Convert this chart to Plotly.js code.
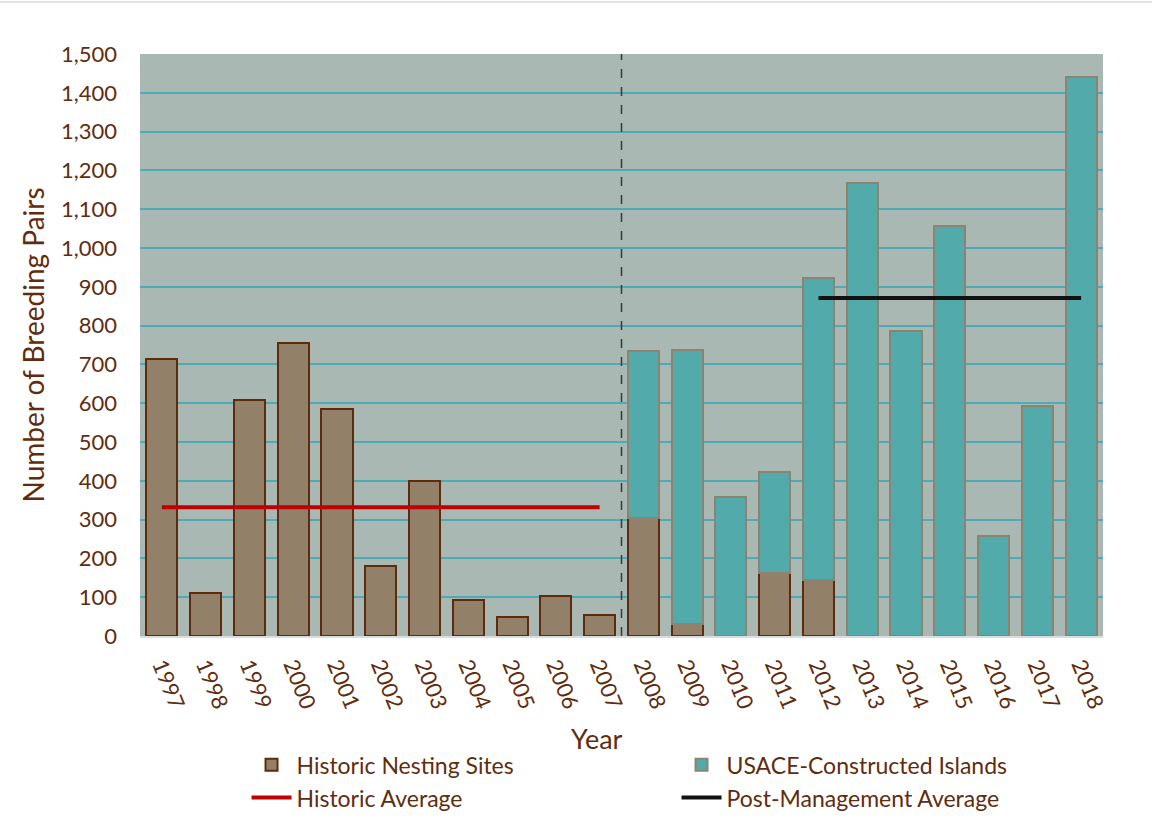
<!DOCTYPE html>
<html>
<head>
<meta charset="utf-8">
<script src="https://cdn.plot.ly/plotly-3.0.1.min.js"></script>
<style>
  html, body { margin: 0; padding: 0; background: #fff; }
  #wrap { position: relative; width: 1152px; height: 836px; }
  #topline { position: absolute; left: 0; top: 1px; width: 1152px; height: 2px; background: #e1e5ea; z-index: 5; }
  #chart { width: 1152px; height: 836px; }
</style>
</head>
<body>
<div id="wrap">
  <div id="topline"></div>
  <div id="chart"></div>
</div>
<script>
const years = ['1997','1998','1999','2000','2001','2002','2003','2004','2005','2006','2007',
               '2008','2009','2010','2011','2012','2013','2014','2015','2016','2017','2018'];
const historicNesting = [714, 111, 608, 755, 585, 180, 400, 93, 49, 103, 54,
                         304, 31, null, 162, 144, null, null, null, null, null, null];
const usaceIslands = [null, null, null, null, null, null, null, null, null, null, null,
                      431, 706, 358, 261, 779, 1168, 786, 1057, 258, 593, 1441];
const historicAvgYears = ['1997', '2007'];
const historicAvg = [332, 332];
const postMgmtAvgYears = ['2012', '2018'];
const postMgmtAvg = [871, 871];
const yTickVals = [0,100,200,300,400,500,600,700,800,900,1000,1100,1200,1300,1400,1500];

const brown = '#5f2d0e';
const font = 'Lato, "Open Sans", sans-serif';

const traces = [
  { type: 'bar', name: 'Historic Nesting Sites', x: years, y: historicNesting,
    marker: { color: '#928069', line: { color: '#5e2b0c', width: 2 } } },
  { type: 'bar', name: 'USACE-Constructed Islands', x: years, y: usaceIslands,
    marker: { color: '#52abaa', line: { color: '#8c8470', width: 2 } } },
  { type: 'scatter', mode: 'lines', name: 'Historic Average', x: historicAvgYears, y: historicAvg,
    line: { color: '#c00000', width: 4 } },
  { type: 'scatter', mode: 'lines', name: 'Post-Management Average', x: postMgmtAvgYears, y: postMgmtAvg,
    line: { color: '#111111', width: 4 } }
];

const layout = {
  width: 1152, height: 836,
  margin: { l: 140, r: 49, t: 54, b: 200 },
  paper_bgcolor: '#ffffff',
  plot_bgcolor: '#aab8b3',
  font: { family: font, color: brown, size: 20 },
  barmode: 'stack',
  bargap: 0.29,
  showlegend: true,
  legend: {
    orientation: 'h', xref: 'container', yref: 'container',
    x: 0.214, xanchor: 'left', y: 0.111, yanchor: 'top',
    entrywidth: 375, traceorder: 'normal', itemwidth: 40, tracegroupgap: 0,
    font: { family: font, size: 23, color: brown }, bgcolor: 'rgba(0,0,0,0)'
  },
  xaxis: {
    type: 'category', categoryorder: 'array', categoryarray: years,
    tickangle: 68, tickfont: { family: font, size: 22, color: brown },
    ticklabelstandoff: 6,
    showgrid: false, showline: true, linecolor: '#d9dde1', linewidth: 2,
    ticks: '', automargin: false
  },
  yaxis: {
    range: [0, 1500], tickvals: yTickVals, tickformat: ',d',
    tickfont: { family: font, size: 22, color: brown },
    ticklabelstandoff: 22,
    showgrid: true, gridcolor: '#4eabb6', gridwidth: 2,
    zeroline: false, showline: false, ticks: '', automargin: false,
    title: { text: 'Number of Breeding Pairs', font: { family: font, size: 28, color: brown }, standoff: 8 }
  },
  annotations: [
    { text: 'Year', xref: 'paper', yref: 'paper', x: 0.4746, y: -0.1753,
      xanchor: 'center', yanchor: 'middle', showarrow: false,
      font: { family: font, size: 27, color: brown } }
  ],
  shapes: [
    { type: 'line', xref: 'x', yref: 'paper', x0: 10.5, x1: 10.5, y0: 0, y1: 1,
      line: { color: '#3a3a3a', width: 1.5, dash: 'dash' } }
  ]
};

Plotly.newPlot('chart', traces, layout, { displayModeBar: false, staticPlot: true });
</script>
</body>
</html>
